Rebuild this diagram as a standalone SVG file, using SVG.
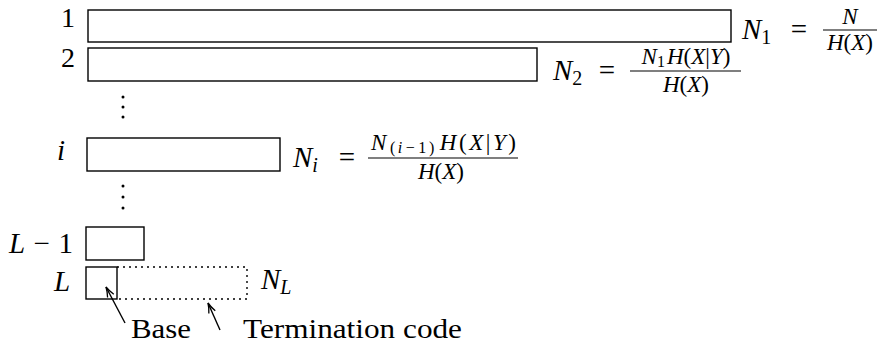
<svg xmlns="http://www.w3.org/2000/svg" width="883" height="345" viewBox="0 0 883 345">
<style>
.box{fill:none;stroke:#000;stroke-width:1.4}
.dot{fill:none;stroke:#000;stroke-width:1.4;stroke-dasharray:2 4}
.lbl{font-size:28px}
.m{font-size:29px;font-style:italic}
.sub{font-size:20px;font-style:normal}
.subi{font-size:20px;font-style:italic}
.fr{font-size:23px;font-style:italic}
.fs{font-size:16px}
.up{font-style:normal}
.eq{font-size:29px}
.bar{stroke:#000;stroke-width:1.1}
.arr{fill:none;stroke:#000;stroke-width:1.4}
</style>
<defs>
<marker id="ah" viewBox="0 0 12 10" refX="11" refY="5" markerWidth="12" markerHeight="10" markerUnits="userSpaceOnUse" orient="auto">
<path d="M1,1.5 Q6,4 11,5 Q6,6 1,8.5" fill="none" stroke="#000" stroke-width="1.3"/>
</marker>
</defs>
<g font-family="'Liberation Serif', 'DejaVu Serif', 'Noto Serif', 'Times New Roman', Tinos, FreeSerif, serif" fill="#000">

<g id="row1">
<text class="lbl" x="68" y="27" text-anchor="middle">1</text>
<rect class="box" x="88" y="10" width="643" height="32"/>
<text class="m" x="742" y="39">N<tspan class="sub" dy="5">1</tspan></text>
<text class="eq" x="799" y="39" text-anchor="middle">=</text>
<line class="bar" x1="823" y1="30" x2="877" y2="30"/>
<text class="fr" x="850" y="24" text-anchor="middle">N</text>
<text class="fr" x="850" y="50" text-anchor="middle">H<tspan class="up">(</tspan>X<tspan class="up">)</tspan></text>
</g>

<g id="row2">
<text class="lbl" x="68" y="67" text-anchor="middle">2</text>
<rect class="box" x="88" y="48" width="449" height="33"/>
<text class="m" x="553" y="80">N<tspan class="sub" dy="5">2</tspan></text>
<text class="eq" x="607" y="80" text-anchor="middle">=</text>
<line class="bar" x1="630" y1="71" x2="741" y2="71"/>
<text class="fr" x="686" y="64" text-anchor="middle">N<tspan class="fs up" dy="3">1</tspan><tspan dy="-3" dx="2">H</tspan><tspan class="up">(</tspan>X<tspan class="up">|</tspan>Y<tspan class="up">)</tspan></text>
<text class="fr" x="686" y="92" text-anchor="middle">H<tspan class="up">(</tspan>X<tspan class="up">)</tspan></text>
</g>

<g id="dots1">
<circle cx="123" cy="97" r="1.5"/>
<circle cx="123" cy="107" r="1.5"/>
<circle cx="123" cy="117" r="1.5"/>
</g>

<g id="rowi">
<text class="m" x="61" y="160" text-anchor="middle">i</text>
<rect class="box" x="87" y="138" width="193" height="33"/>
<text class="m" x="293" y="167">N<tspan class="subi" dy="5">i</tspan></text>
<text class="eq" x="347" y="167" text-anchor="middle">=</text>
<line class="bar" x1="368" y1="158" x2="518" y2="158"/>
<text class="fr" x="371" y="150" textLength="145" lengthAdjust="spacing">N<tspan class="fs up" dy="3" dx="1">(</tspan><tspan class="fs">i</tspan><tspan class="fs up" dx="1">−</tspan><tspan class="fs up" dx="1">1)</tspan><tspan dy="-3" dx="3">H</tspan><tspan class="up">(</tspan>X<tspan class="up">|</tspan>Y<tspan class="up">)</tspan></text>
<text class="fr" x="441" y="179" text-anchor="middle">H<tspan class="up">(</tspan>X<tspan class="up">)</tspan></text>
</g>

<g id="dots2">
<circle cx="123" cy="186" r="1.5"/>
<circle cx="123" cy="197" r="1.5"/>
<circle cx="123" cy="208" r="1.5"/>
</g>

<g id="rowL1">
<text class="m" x="9" y="253" textLength="64" lengthAdjust="spacing">L <tspan class="up">− 1</tspan></text>
<rect class="box" x="86" y="227" width="58" height="33"/>
</g>

<g id="rowL">
<text class="m" x="62" y="291" text-anchor="middle">L</text>
<rect class="box" x="86" y="267" width="31" height="32"/>
<path class="dot" d="M117,267 H247 V299 H117"/>
<text class="m" x="261" y="289">N<tspan class="subi" dy="5">L</tspan></text>
</g>

<g id="base">
<text class="lbl" x="131" y="338" textLength="60" lengthAdjust="spacingAndGlyphs">Base</text>
</g>
<g id="termination">
<text class="lbl" x="243" y="338" textLength="219" lengthAdjust="spacingAndGlyphs">Termination code</text>
</g>

<g id="connectors">
<line class="arr" x1="125" y1="323" x2="106" y2="287" marker-end="url(#ah)"/>
<line class="arr" x1="220" y1="330" x2="208" y2="303" marker-end="url(#ah)"/>
</g>
</g>
</svg>
